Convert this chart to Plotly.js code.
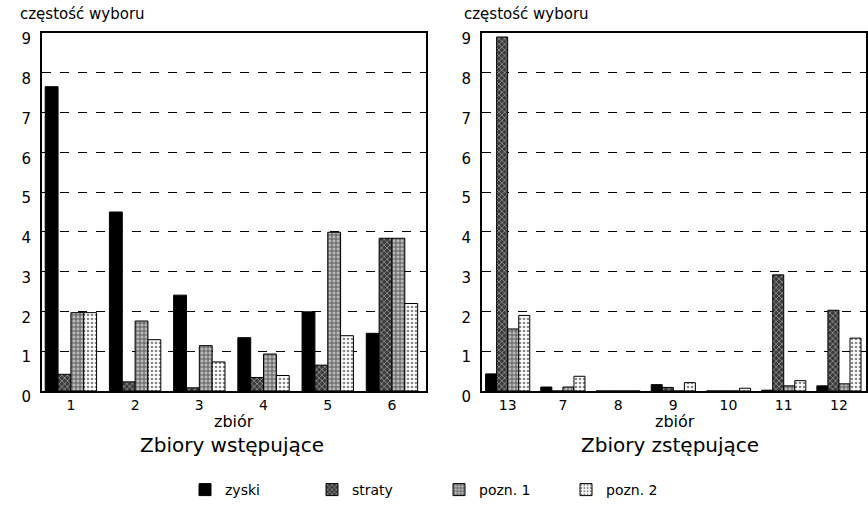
<!DOCTYPE html>
<html><head><meta charset="utf-8">
<script src="https://cdn.plot.ly/plotly-3.0.1.min.js"></script>
<style>html,body{margin:0;padding:0;background:#fff}#chart{width:868px;height:507px}</style>
</head><body><div id="chart"></div>
<script>
const catsAsc = ['1','2','3','4','5','6'];
const ascZyski = [7.65, 4.5, 2.41, 1.34, 1.99, 1.45];
const ascStraty = [0.42, 0.23, 0.08, 0.34, 0.65, 3.84];
const ascPozn1 = [1.97, 1.76, 1.14, 0.93, 3.99, 3.84];
const ascPozn2 = [1.97, 1.29, 0.73, 0.39, 1.39, 2.2];

const catsDesc = ['13','7','8','9','10','11','12'];
const descZyski = [0.43, 0.1, 0, 0.16, 0, 0.02, 0.13];
const descStraty = [8.9, 0, 0, 0.09, 0, 2.92, 2.03];
const descPozn1 = [1.56, 0.1, 0, 0, 0, 0.13, 0.18];
const descPozn2 = [1.9, 0.37, 0, 0.21, 0.07, 0.26, 1.33];

const seriesNames = ['zyski', 'straty', 'pozn. 1', 'pozn. 2'];
const yTicks = [0,1,2,3,4,5,6,7,8,9];

const markers = [
  {color:'#000', line:{color:'#000', width:1}},
  {color:'#444', line:{color:'#000', width:1}, pattern:{shape:'x', bgcolor:'#3a3a3a', fgcolor:'#9a9a9a', size:4, solidity:0.35}},
  {color:'#aaa', line:{color:'#000', width:1}, pattern:{shape:'+', bgcolor:'#b8b8b8', fgcolor:'#333', size:4, solidity:0.3}},
  {color:'#eee', line:{color:'#000', width:1}, pattern:{shape:'.', bgcolor:'#fff', fgcolor:'#888', size:4, solidity:0.35}}
];

const ascVals = [ascZyski, ascStraty, ascPozn1, ascPozn2];
const descVals = [descZyski, descStraty, descPozn1, descPozn2];
const traces = [];
ascVals.forEach((v,i)=>traces.push({type:'bar', x:catsAsc, y:v, name:seriesNames[i], marker:markers[i], xaxis:'x', yaxis:'y', showlegend:true}));
descVals.forEach((v,i)=>traces.push({type:'bar', x:catsDesc, y:v, name:seriesNames[i], marker:markers[i], xaxis:'x2', yaxis:'y2', showlegend:false}));

const FONT = 'DejaVu Sans, Liberation Sans, sans-serif';
const W = 868, H = 507;
const yDom = [1-391/H, 1-33/H];
const yAxisBase = {
  range:[0,9], tickvals:yTicks, ticktext:yTicks.map(String), showgrid:true, gridcolor:'#000', griddash:'dash', gridwidth:1,
  zeroline:false, showline:true, linecolor:'#000', linewidth:2, mirror:true, ticks:'', ticklabelshift:6, ticklabelstandoff:6,
  tickfont:{size:15, color:'#000', family:FONT}, domain:yDom, fixedrange:true
};
const xAxisBase = {
  type:'category', showline:true, linecolor:'#000', linewidth:2, mirror:true, ticks:'', showgrid:false,
  tickfont:{size:14, color:'#000', family:FONT}, fixedrange:true
};

const layout = {
  width:W, height:H, margin:{l:0, r:0, t:0, b:0}, paper_bgcolor:'#fff', plot_bgcolor:'#fff',
  font:{family:FONT, color:'#000'},
  barmode:'group', bargap:0.2, bargroupgap:0,
  xaxis:Object.assign({}, xAxisBase, {domain:[42/W, 426/W], range:[-0.45, 5.53], anchor:'y'}),
  yaxis:Object.assign({}, yAxisBase, {anchor:'x'}),
  xaxis2:Object.assign({}, xAxisBase, {domain:[482/W, 866/W], range:[-0.465, 6.49], anchor:'y2'}),
  yaxis2:Object.assign({}, yAxisBase, {anchor:'x2'}),
  legend:{orientation:'h', x:185/W, xanchor:'left', y:1-490/H, yanchor:'middle', font:{size:14, family:FONT}, entrywidth:82, itemwidth:30, traceorder:'normal'},
  annotations:[
    {text:'częstość wyboru', xref:'paper', yref:'paper', x:18/W, y:1-14/H, xanchor:'left', yanchor:'middle', showarrow:false, font:{size:15}},
    {text:'częstość wyboru', xref:'paper', yref:'paper', x:462/W, y:1-14/H, xanchor:'left', yanchor:'middle', showarrow:false, font:{size:15}},
    {text:'zbiór', xref:'paper', yref:'paper', x:234/W, y:1-421/H, xanchor:'center', yanchor:'middle', showarrow:false, font:{size:16}},
    {text:'zbiór', xref:'paper', yref:'paper', x:675/W, y:1-421/H, xanchor:'center', yanchor:'middle', showarrow:false, font:{size:16}},
    {text:'Zbiory wstępujące', xref:'paper', yref:'paper', x:232/W, y:1-445/H, xanchor:'center', yanchor:'middle', showarrow:false, font:{size:20}},
    {text:'Zbiory zstępujące', xref:'paper', yref:'paper', x:670/W, y:1-445/H, xanchor:'center', yanchor:'middle', showarrow:false, font:{size:20}}
  ]
};
Plotly.newPlot('chart', traces, layout, {displayModeBar:false, staticPlot:true});
</script></body></html>
